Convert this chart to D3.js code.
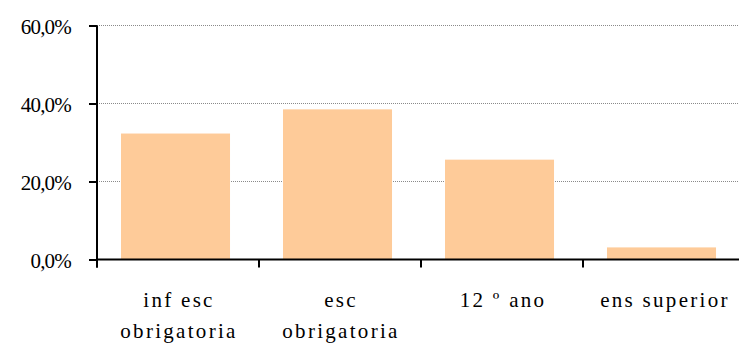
<!DOCTYPE html>
<html><head><meta charset="utf-8">
<script src="https://cdn.jsdelivr.net/npm/d3@7"></script>
<style>html,body{margin:0;padding:0;background:#fff;overflow:hidden}</style>
</head><body>
<svg id="c" width="739" height="344"></svg>
<script>
const categories = ["inf esc|obrigatoria", "esc|obrigatoria", "12 º ano", "ens superior"];
const values = [32.3, 38.5, 25.6, 3.1];
const yTicks = [0, 20, 40, 60];

const FONT = '"Liberation Serif", "Times New Roman", serif';
const svg = d3.select("#c");
const mLeft = 97, step = 162, mTop = 25.5, mBottom = 259.5;
const loc = d3.formatLocale({decimal: ",", thousands: ".", grouping: [3], currency: ["", "€"]});
const fmt = loc.format(".1%");

const x0 = d3.scaleBand().domain(categories).range([mLeft, mLeft + step * categories.length]).padding(0);
const x = d3.scaleBand().domain(categories).range([mLeft, mLeft + step * categories.length])
  .paddingInner(0.327).paddingOuter(0.1635).align(0.453);
const y = d3.scaleLinear().domain([0, 60]).range([mBottom, mTop]);

// gridlines
svg.append("g").selectAll("line").data(yTicks.filter(d => d > 0)).join("line")
  .attr("x1", mLeft).attr("x2", 739).attr("y1", d => y(d)).attr("y2", d => y(d))
  .attr("stroke", "#8a8a8a").attr("stroke-width", 1.2).attr("stroke-dasharray", "1,1");

// bars
svg.append("g").selectAll("rect").data(values).join("rect")
  .attr("x", (d, i) => x(categories[i])).attr("width", x.bandwidth())
  .attr("y", d => y(d)).attr("height", d => y(0) - y(d))
  .attr("fill", "#FECB99");

// y axis
const yAxis = svg.append("g").attr("transform", `translate(${mLeft},0)`)
  .call(d3.axisLeft(y).tickValues(yTicks).tickSize(8).tickPadding(18).tickFormat(d => fmt(d / 100)));
yAxis.select(".domain").attr("stroke", "#000").attr("stroke-width", 2).attr("d", `M0,${mTop}V${mBottom + 8}`);
yAxis.selectAll(".tick line").attr("stroke", "#000").attr("stroke-width", 2);
yAxis.selectAll(".tick text")
  .style("font-family", FONT).style("font-size", "21px").style("letter-spacing", "-0.8px")
  .attr("fill", "#000").attr("dy", "0.38em");

// x axis
const xg = svg.append("g");
xg.append("line").attr("x1", mLeft).attr("x2", 739).attr("y1", mBottom).attr("y2", mBottom)
  .attr("stroke", "#000").attr("stroke-width", 2);
const bounds = categories.map(c => x0(c));
xg.selectAll("line.t").data(bounds).join("line").attr("class", "t")
  .attr("x1", d => d).attr("x2", d => d).attr("y1", mBottom).attr("y2", mBottom + 8)
  .attr("stroke", "#000").attr("stroke-width", 2);

const lab = xg.selectAll("text").data(categories).join("text")
  .attr("text-anchor", "middle")
  .style("font-family", FONT).style("font-size", "21px").style("letter-spacing", "2.3px")
  .attr("fill", "#000");
lab.each(function(c) {
  const t = d3.select(this);
  c.split("|").forEach((s, i) => {
    t.append("tspan").attr("x", x0(c) + x0.bandwidth() / 2 + 1).attr("y", 307 + i * 31).text(s);
  });
});
</script>
</body></html>
